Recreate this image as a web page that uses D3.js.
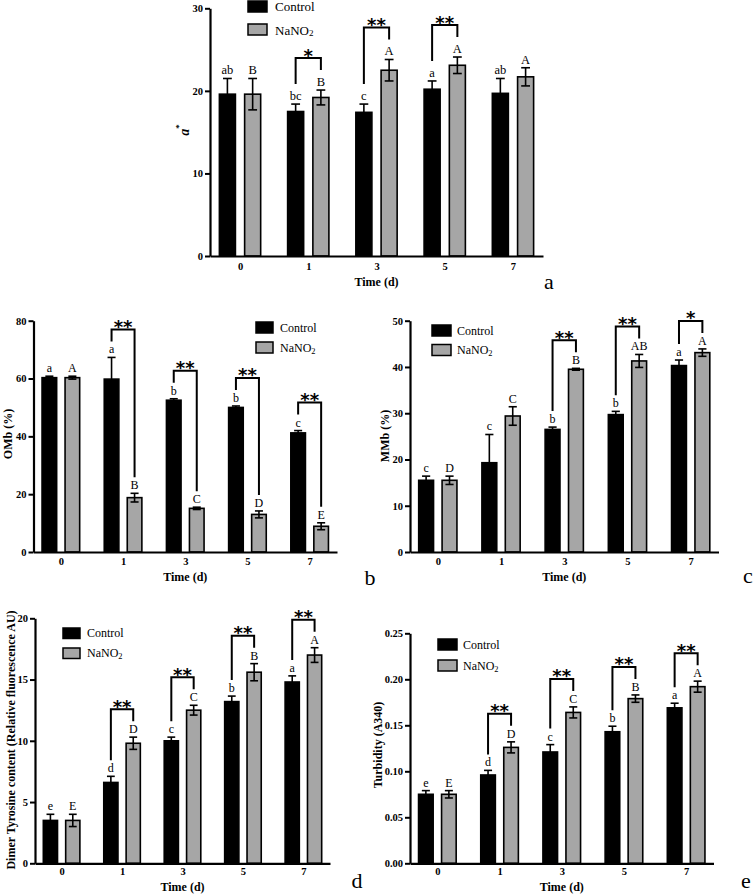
<!DOCTYPE html>
<html><head><meta charset="utf-8">
<script src="https://cdn.jsdelivr.net/npm/d3@7"></script>
<style>body{margin:0;background:#fff} svg{display:block}</style>
</head><body><svg id="c" width="756" height="895"></svg>
<script>
// ---------- DATA ----------
const days = ["0", "1", "3", "5", "7"];
const seriesNames = ["Control", "NaNO2"];

// (a) a*
const aControl     = [19.6, 17.5, 17.4, 20.2, 19.7];
const aControlErr  = [1.9, 0.9, 1.0, 1.0, 1.8];
const aNitrite     = [19.6, 19.2, 22.5, 23.1, 21.7];
const aNitriteErr  = [1.9, 0.9, 1.3, 1.0, 1.1];
const aControlLet  = ["ab", "bc", "c", "a", "ab"];
const aNitriteLet  = ["B", "B", "A", "A", "A"];
const aSig         = ["", "*", "**", "**", ""];
const aTicks       = [0, 10, 20, 30];

// (b) OMb (%)
const bControl     = [60.3, 59.8, 52.5, 50.0, 41.2];
const bControlErr  = [0.5, 7.5, 0.5, 0.5, 0.8];
const bNitrite     = [60.3, 18.8, 15.1, 13.0, 8.9];
const bNitriteErr  = [0.5, 1.5, 0.4, 1.2, 1.2];
const bControlLet  = ["a", "a", "b", "b", "c"];
const bNitriteLet  = ["A", "B", "C", "D", "E"];
const bSig         = ["", "**", "**", "**", "**"];
const bTicks       = [0, 20, 40, 60, 80];

// (c) MMb (%)
const cControl     = [15.5, 19.3, 26.5, 29.7, 40.3];
const cControlErr  = [0.9, 6.1, 0.5, 0.7, 1.2];
const cNitrite     = [15.5, 29.4, 39.5, 41.3, 43.1];
const cNitriteErr  = [0.9, 2.0, 0.2, 1.4, 0.8];
const cControlLet  = ["c", "c", "b", "b", "a"];
const cNitriteLet  = ["D", "C", "B", "AB", "A"];
const cSig         = ["", "", "**", "**", "*"];
const cTicks       = [0, 10, 20, 30, 40, 50];

// (d) Dimer tyrosine content
const dControl     = [3.5, 6.6, 10.0, 13.2, 14.8];
const dControlErr  = [0.5, 0.5, 0.3, 0.45, 0.5];
const dNitrite     = [3.5, 9.8, 12.5, 15.6, 17.0];
const dNitriteErr  = [0.5, 0.5, 0.4, 0.7, 0.6];
const dControlLet  = ["e", "d", "c", "b", "a"];
const dNitriteLet  = ["E", "D", "C", "B", "A"];
const dSig         = ["", "**", "**", "**", "**"];
const dTicks       = [0, 5, 10, 15, 20];

// (e) Turbidity (A340)
const eControl     = [0.075, 0.096, 0.121, 0.143, 0.169];
const eControlErr  = [0.004, 0.005, 0.008, 0.006, 0.005];
const eNitrite     = [0.075, 0.126, 0.164, 0.179, 0.192];
const eNitriteErr  = [0.004, 0.006, 0.006, 0.004, 0.006];
const eControlLet  = ["e", "d", "c", "b", "a"];
const eNitriteLet  = ["E", "D", "C", "B", "A"];
const eSig         = ["", "**", "**", "**", "**"];
const eTicks       = [0, 0.05, 0.10, 0.15, 0.20, 0.25];

// ---------- LAYOUT ----------
const SERIF = "'Liberation Serif','Times New Roman',serif";
const GREY = "#a6a6a6";
const svg = d3.select("#c");

const panels = [
  {id:"a", ctrl:aControl, ctrlErr:aControlErr, nit:aNitrite, nitErr:aNitriteErr, ctrlLet:aControlLet, nitLet:aNitriteLet, sig:aSig, ticks:aTicks,
   x0:210, x1:543, yB:256, yT:8.3, fmt:d3.format("d"), ylab:"a", yLabX:184, yLabY:130, tickY:6.5, timeY:286,
   leg:{x:248, y:1, w:19, h:11, gap:23, tx:275, fs:13}, letX:549, letY:289, legGap:20, letFs:12.5},
  {id:"b", ctrl:bControl, ctrlErr:bControlErr, nit:bNitrite, nitErr:bNitriteErr, ctrlLet:bControlLet, nitLet:bNitriteLet, sig:bSig, ticks:bTicks,
   x0:33.5, x1:337, yB:552, yT:320.7, fmt:d3.format("d"), ylab:"OMb (%)", yLabX:7.5, yLabY:434, tickY:5.5, timeY:581,
   leg:{x:256, y:322, w:17, h:11, gap:20, tx:280, fs:12}, letX:370, letY:585, legGap:16, letFs:12},
  {id:"c", ctrl:cControl, ctrlErr:cControlErr, nit:cNitrite, nitErr:cNitriteErr, ctrlLet:cControlLet, nitLet:cNitriteLet, sig:cSig, ticks:cTicks,
   x0:410, x1:718.5, yB:552, yT:320.7, fmt:d3.format("d"), ylab:"MMb (%)", yLabX:384.5, yLabY:436, tickY:5.5, timeY:581,
   leg:{x:432, y:325, w:19, h:11, gap:19.5, tx:457, fs:12}, letX:748, letY:583, legGap:16, letFs:12},
  {id:"d", ctrl:dControl, ctrlErr:dControlErr, nit:dNitrite, nitErr:dNitriteErr, ctrlLet:dControlLet, nitLet:dNitriteLet, sig:dSig, ticks:dTicks,
   x0:35, x1:330, yB:863.3, yT:618.3, fmt:d3.format("d"), ylab:"Dimer Tyrosine content (Relative fluorescence AU)", yLabX:10.5, yLabY:740, tickY:4.5, timeY:891,
   leg:{x:63, y:628, w:17, h:10.5, gap:20, tx:87, fs:12}, letX:357, letY:888, legGap:16, letFs:12},
  {id:"e", ctrl:eControl, ctrlErr:eControlErr, nit:eNitrite, nitErr:eNitriteErr, ctrlLet:eControlLet, nitLet:eNitriteLet, sig:eSig, ticks:eTicks,
   x0:410, x1:713.5, yB:863.3, yT:633.3, fmt:d3.format(".2f"), ylab:"Turbidity (A340)", yLabX:378, yLabY:745, tickY:4.5, timeY:891,
   leg:{x:438, y:639, w:19, h:11, gap:21, tx:463, fs:12}, letX:746, letY:888, legGap:16, letFs:12}
];

function drawPanel(p) {
  const g = svg.append("g").attr("class", "panel-" + p.id);
  const x = d3.scalePoint().domain(days).range([p.x0, p.x1]).padding(0.44);
  const y = d3.scaleLinear().domain([0, p.ticks[p.ticks.length - 1]]).range([p.yB, p.yT]);
  const step = x.step();
  const bw = step * 0.235, off = step * 0.185, cap = bw * 0.55;

  const series = [
    {vals:p.ctrl, err:p.ctrlErr, lets:p.ctrlLet, fill:"#000", dx:-off},
    {vals:p.nit,  err:p.nitErr,  lets:p.nitLet,  fill:GREY,   dx: off}
  ];

  series.forEach(s => {
    const sg = g.append("g");
    sg.selectAll("rect").data(days).join("rect")
      .attr("x", d => x(d) + s.dx - bw / 2)
      .attr("y", (d, i) => y(s.vals[i]))
      .attr("width", bw)
      .attr("height", (d, i) => y(0) - y(s.vals[i]))
      .attr("fill", s.fill).attr("stroke", "#000").attr("stroke-width", 1.6);
    const eg = sg.selectAll("g.err").data(days).join("g").attr("class", "err")
      .attr("stroke", "#000").attr("stroke-width", 1.6);
    eg.append("line")
      .attr("x1", d => x(d) + s.dx).attr("x2", d => x(d) + s.dx)
      .attr("y1", (d, i) => y(s.vals[i] - s.err[i])).attr("y2", (d, i) => y(s.vals[i] + s.err[i]));
    eg.append("line")
      .attr("x1", d => x(d) + s.dx - cap / 2).attr("x2", d => x(d) + s.dx + cap / 2)
      .attr("y1", (d, i) => y(s.vals[i] + s.err[i])).attr("y2", (d, i) => y(s.vals[i] + s.err[i]));
    eg.append("line")
      .attr("x1", d => x(d) + s.dx - cap / 2).attr("x2", d => x(d) + s.dx + cap / 2)
      .attr("y1", (d, i) => y(s.vals[i] - s.err[i])).attr("y2", (d, i) => y(s.vals[i] - s.err[i]));
    sg.selectAll("text.let").data(days).join("text").attr("class", "let")
      .attr("x", d => x(d) + s.dx)
      .attr("y", (d, i) => y(s.vals[i] + s.err[i]) - 4)
      .attr("text-anchor", "middle")
      .attr("font-family", SERIF).attr("font-size", p.letFs)
      .text((d, i) => s.lets[i]);
  });

  const sigData = days.map((d, i) => ({d, i, s: p.sig[i]})).filter(o => o.s !== "");
  const bg = g.append("g");
  sigData.forEach(o => {
    const i = o.i;
    const xl = x(o.d) - off, xr = x(o.d) + off;
    const yl = y(p.ctrl[i] + p.ctrlErr[i]) - p.legGap;
    const yr = y(p.nit[i] + p.nitErr[i]) - p.legGap;
    const top = Math.min(yl, yr) - 12;
    bg.append("path")
      .attr("d", `M${xl},${yl}V${top}H${xr}V${yr}`)
      .attr("fill", "none").attr("stroke", "#000").attr("stroke-width", 2);
    bg.append("text")
      .attr("x", x(o.d)).attr("y", top + 3.5)
      .attr("text-anchor", "middle")
      .attr("font-family", "'DejaVu Sans',sans-serif").attr("font-weight", "bold")
      .attr("font-size", 18)
      .text(o.s);
  });

  const yAxis = d3.axisLeft(y).tickValues(p.ticks).tickFormat(p.fmt).tickSize(5).tickSizeOuter(0).tickPadding(2);
  const ya = g.append("g").attr("transform", `translate(${p.x0},0)`).call(yAxis);
  ya.select(".domain").attr("stroke-width", 2.2);
  ya.selectAll(".tick line").attr("stroke-width", 2);
  ya.selectAll(".tick text").attr("font-family", SERIF).attr("font-weight", "bold").attr("font-size", 10.5).attr("fill", "#000");

  const xAxis = d3.axisBottom(x).tickSize(0).tickSizeOuter(0).tickPadding(p.tickY);
  const xa = g.append("g").attr("transform", `translate(0,${p.yB})`).call(xAxis);
  xa.select(".domain").attr("stroke-width", 2.2);
  xa.selectAll(".tick text").attr("font-family", SERIF).attr("font-weight", "bold").attr("font-size", 10.5).attr("fill", "#000");

  g.append("text")
    .attr("x", (x(days[0]) + x(days[days.length - 1])) / 2).attr("y", p.timeY)
    .attr("text-anchor", "middle")
    .attr("font-family", SERIF).attr("font-weight", "bold").attr("font-size", 12)
    .text("Time (d)");

  const yl = g.append("text")
    .attr("transform", `translate(${p.yLabX},${p.yLabY}) rotate(-90)`)
    .attr("text-anchor", "middle").attr("dominant-baseline", "central")
    .attr("font-family", SERIF).attr("font-weight", "bold").attr("font-size", 12);
  if (p.id === "a") {
    yl.attr("font-size", 14);
    yl.append("tspan").attr("font-style", "italic").text("a");
    yl.append("tspan").attr("font-size", 9).attr("dy", -5).text("*");
  } else {
    yl.text(p.ylab);
  }

  const lg = g.append("g");
  seriesNames.forEach((nm, k) => {
    lg.append("rect")
      .attr("x", p.leg.x).attr("y", p.leg.y + k * p.leg.gap)
      .attr("width", p.leg.w).attr("height", p.leg.h)
      .attr("fill", k === 0 ? "#000" : GREY).attr("stroke", "#000").attr("stroke-width", 1.5);
    const t = lg.append("text")
      .attr("x", p.leg.tx).attr("y", p.leg.y + k * p.leg.gap + p.leg.h / 2)
      .attr("dominant-baseline", "central")
      .attr("font-family", SERIF).attr("font-size", p.leg.fs);
    if (nm === "NaNO2") {
      t.append("tspan").text("NaNO");
      t.append("tspan").attr("font-size", p.leg.fs * 0.7).attr("dy", 3).text("2");
    } else {
      t.text(nm);
    }
  });

  g.append("text")
    .attr("x", p.letX).attr("y", p.letY)
    .attr("text-anchor", "middle")
    .attr("font-family", SERIF).attr("font-size", 22)
    .text(p.id);
}

panels.forEach(drawPanel);
</script>
</body></html>
